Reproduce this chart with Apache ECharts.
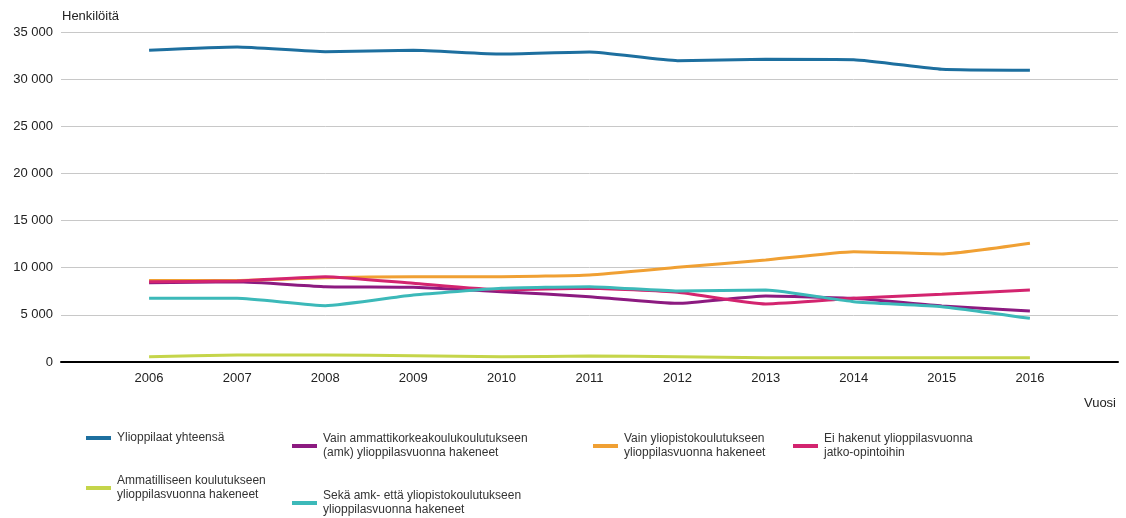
<!DOCTYPE html>
<html>
<head>
<meta charset="utf-8">
<script src="https://cdn.jsdelivr.net/npm/echarts@6/dist/echarts.min.js"></script>
<style>
  html, body { margin: 0; padding: 0; background: #fff; }
  #chart { width: 1126px; height: 518px; }
</style>
</head>
<body>
<div id="chart"></div>
<script>
  // vuodet
  var years = [2006, 2007, 2008, 2009, 2010, 2011, 2012, 2013, 2014, 2015, 2016];

  var yhteensa   = [33060, 33410, 32910, 33060, 32660, 32880, 31960, 32100, 32060, 31040, 30940];
  var vainAmk    = [8400, 8500, 7990, 7920, 7460, 6930, 6220, 7000, 6750, 5940, 5410];
  var vainYo     = [8650, 8650, 8940, 9050, 9050, 9230, 10040, 10820, 11700, 11460, 12590];
  var eiHakenut  = [8500, 8600, 9050, 8340, 7640, 7820, 7390, 6150, 6750, 7180, 7640];
  var ammatill   = [560, 740, 740, 670, 560, 630, 560, 460, 460, 460, 460];
  var molemmat   = [6750, 6750, 5970, 7110, 7810, 7990, 7530, 7640, 6400, 5870, 4630];

  var names = [
    'Ylioppilaat yhteensä',
    'Vain ammattikorkeakoulukoulutukseen\n(amk) ylioppilasvuonna hakeneet',
    'Vain yliopistokoulutukseen\nylioppilasvuonna hakeneet',
    'Ei hakenut ylioppilasvuonna\njatko-opintoihin',
    'Ammatilliseen koulutukseen\nylioppilasvuonna hakeneet',
    'Sekä amk- että yliopistokoulutukseen\nylioppilasvuonna hakeneet'
  ];
  var values = [yhteensa, vainAmk, vainYo, eiHakenut, ammatill, molemmat];
  var colors = ['#1d6f9f', '#8c1a80', '#f0a033', '#d3246f', '#c5d54a', '#3cb9b9'];

  // legendin paikat (vasen, ylä)
  var legendPos = [[86, 431], [292, 432], [593, 432], [793, 432], [86, 474], [292, 489]];

  var series = values.map(function (v, i) {
    return {
      name: names[i],
      type: 'line',
      data: years.map(function (y, j) { return [y, v[j]]; }),
      smooth: 0.15,
      symbol: 'none',
      lineStyle: { width: 3, color: colors[i] },
      itemStyle: { color: colors[i] }
    };
  });

  var legends = names.map(function (n, i) {
    return {
      data: [n],
      left: legendPos[i][0],
      top: legendPos[i][1],
      icon: 'rect',
      itemWidth: 25,
      itemHeight: 4,
      itemGap: 0,
      padding: 0,
      textStyle: { fontFamily: 'Liberation Sans, Arial', fontSize: 12, color: '#333', lineHeight: 14, padding: [0, 0, 0, 1] }
    };
  });

  var chart = echarts.init(document.getElementById('chart'));
  chart.setOption({
    animation: false,
    grid: { left: 61, right: 8, top: 32, bottom: 156 },
    legend: legends,
    xAxis: {
      type: 'value',
      min: 2005,
      max: 2017,
      interval: 1,
      splitLine: { show: false },
      axisTick: { show: false },
      axisLine: { lineStyle: { color: '#000', width: 2 } },
      axisLabel: {
        margin: 10,
        color: '#222',
        fontFamily: 'Liberation Sans, Arial',
        fontSize: 13,
        formatter: function (v) { return (v < 2006 || v > 2016) ? '' : String(v); }
      }
    },
    yAxis: {
      type: 'value',
      min: 0,
      max: 35000,
      interval: 5000,
      axisLine: { show: false },
      axisTick: { show: false },
      splitLine: { lineStyle: { color: '#c8c8c8', width: 1 } },
      axisLabel: {
        margin: 8,
        color: '#222',
        fontFamily: 'Liberation Sans, Arial',
        fontSize: 13,
        formatter: function (v) { return String(v).replace(/\B(?=(\d{3})+(?!\d))/g, ' '); }
      }
    },
    graphic: [
      { type: 'text', left: 62, top: 10, style: { text: 'Henkilöitä', fill: '#222', font: '13px Liberation Sans, Arial' } },
      { type: 'text', right: 10, top: 397, style: { text: 'Vuosi', fill: '#222', font: '13px Liberation Sans, Arial' } }
    ],
    series: series
  });
</script>
</body>
</html>
